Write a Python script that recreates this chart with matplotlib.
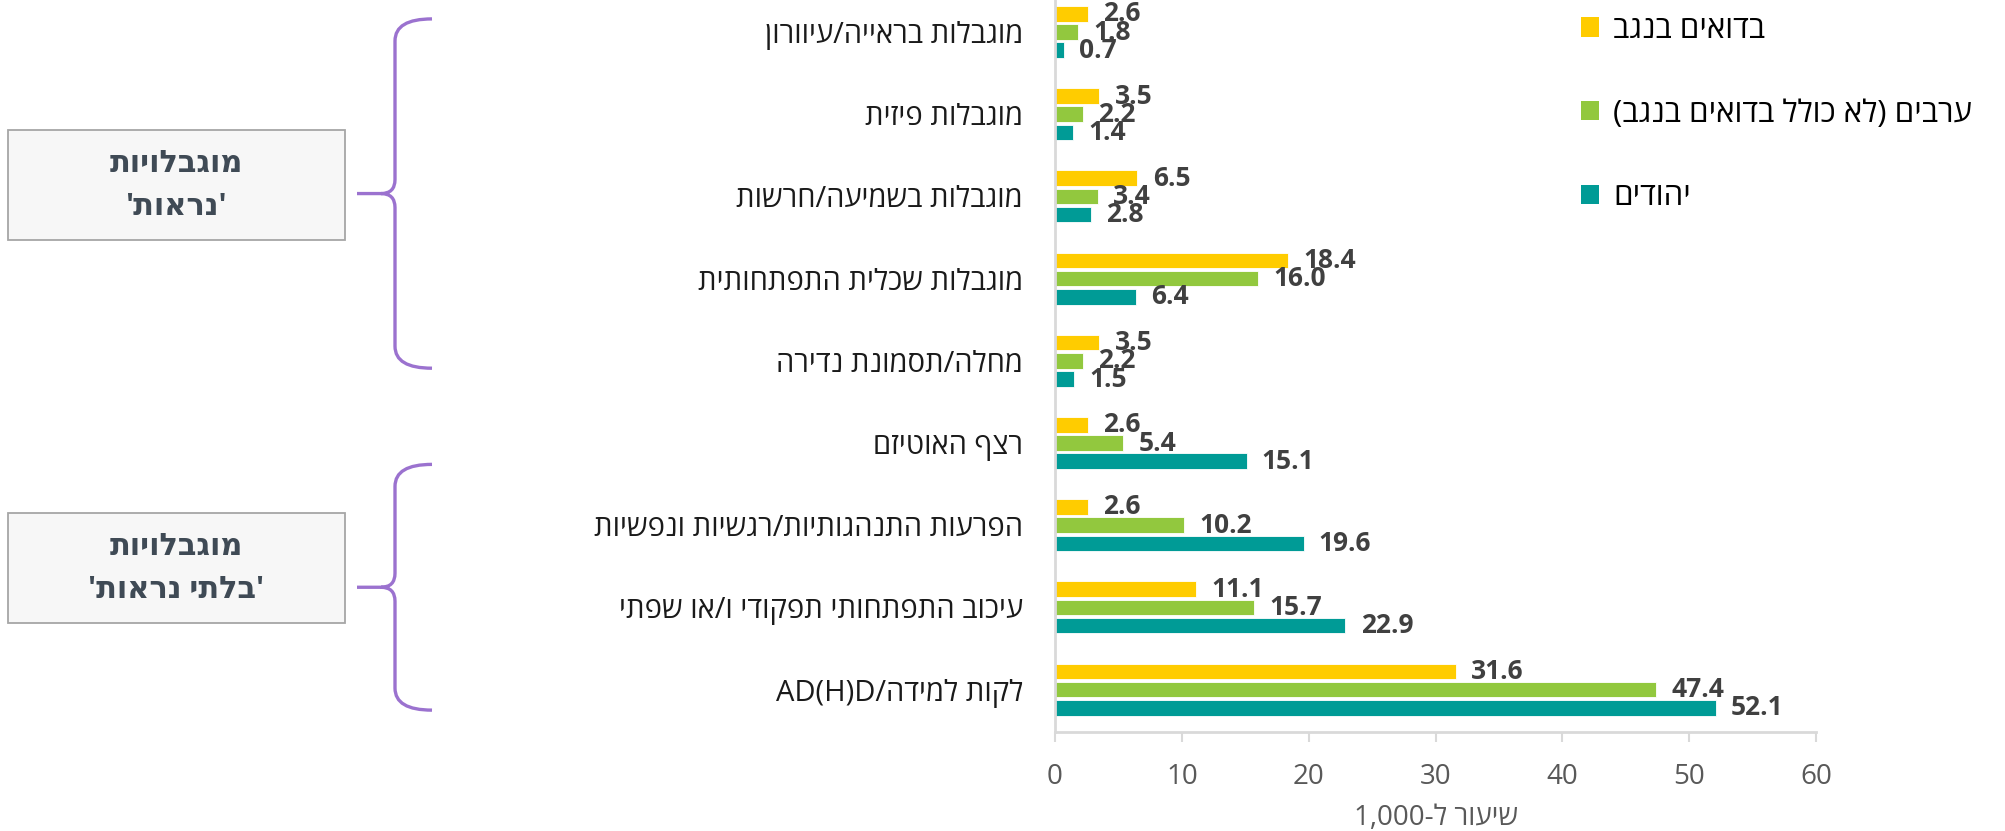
import re

import numpy as np
import matplotlib
matplotlib.use("Agg")
import matplotlib.pyplot as plt
from matplotlib.patches import Patch, Rectangle, PathPatch
from matplotlib.path import Path

plt.rcParams["font.family"] = ["Open Sans", "DejaVu Sans"]

categories = [
    "מוגבלות בראייה/עיוורון",
    "מוגבלות פיזית",
    "מוגבלות בשמיעה/חרשות",
    "מוגבלות שכלית התפתחותית",
    "מחלה/תסמונת נדירה",
    "רצף האוטיזם",
    "הפרעות התנהגותיות/רגשיות ונפשיות",
    "עיכוב התפתחותי תפקודי ו/או שפתי",
    "לקות למידה/AD(H)D",
]
bedouin = [2.6, 3.5, 6.5, 18.4, 3.5, 2.6, 2.6, 11.1, 31.6]
arabs = [1.8, 2.2, 3.4, 16.0, 2.2, 5.4, 10.2, 15.7, 47.4]
jews = [0.7, 1.4, 2.8, 6.4, 1.5, 15.1, 19.6, 22.9, 52.1]
series_names = ["בדואים בנגב", "ערבים (לא כולל בדואים בנגב)", "יהודים"]
colors = ["#FFCC00", "#92C83E", "#009B96"]
x_ticks = [0, 10, 20, 30, 40, 50, 60]
x_label = "שיעור ל-1,000"
groups = [("מוגבלויות", "'נראות'"), ("מוגבלויות", "'בלתי נראות'")]
# brace extent, in category units
group_span = [(-0.16, 4.09), (5.26, 8.25)]

MIRROR = str.maketrans("()", ")(")


def visual(s):
    # minimal bidi: keep latin/digit runs as-is, reverse hebrew runs, flip run order
    parts = [p for p in re.split(r"([A-Za-z0-9](?:[A-Za-z0-9(),.]*[A-Za-z0-9)])?)", s) if p]
    out = []
    for p in reversed(parts):
        if re.match(r"[A-Za-z0-9]", p):
            out.append(p)
        else:
            out.append(p[::-1].translate(MIRROR))
    return "".join(out)


W, H, DPI = 20.05, 8.31, 100
fig = plt.figure(figsize=(W, H), dpi=DPI)
ax = fig.add_axes([1055 / 2005, 1 - 732 / 831, 761 / 2005, 732 / 831])

n = len(categories)
y = np.arange(n)
off = 0.222
bh = 0.19
for k, (vals, col) in enumerate(zip([bedouin, arabs, jews], colors)):
    pos = y + (k - 1) * off
    ax.barh(pos, vals, height=bh, color=col, edgecolor="white", linewidth=0.6)
    for v, p in zip(vals, pos):
        ax.annotate(f"{v:.1f}", (v, p), xytext=(11, 0), textcoords="offset points",
                    ha="left", va="center", fontsize=19, fontweight="bold", color="#404040")

ax.set_ylim(8.516, -0.39)
ax.set_xlim(0, 60)
ax.set_yticks(y, labels=[visual(c) for c in categories], fontsize=21, color="#1a1a1a")
ax.tick_params(axis="y", length=0, pad=23)
ax.set_xticks(x_ticks, labels=[str(t) for t in x_ticks])
ax.tick_params(axis="x", direction="out", length=7, width=1.5, color="#D9D9D9",
               labelsize=20, labelcolor="#595959", pad=15)
ax.set_xlabel(visual(x_label), fontsize=20, color="#595959", labelpad=10)
for s in ["top", "right"]:
    ax.spines[s].set_visible(False)
for s in ["left", "bottom"]:
    ax.spines[s].set_color("#D9D9D9")
    ax.spines[s].set_linewidth(2)

handles = [Patch(facecolor=c, edgecolor="none") for c in colors]
fig.legend(handles, [visual(s) for s in series_names], loc="upper left",
           bbox_to_anchor=(1581 / 2005, 0.982), frameon=False, fontsize=22.5,
           handlelength=0.58, handleheight=0.58, handletextpad=0.45,
           labelspacing=1.72, borderpad=0, borderaxespad=0)

# braces and group boxes
fig_h = H * DPI
fig_w = W * DPI


def data_to_figy(v):
    return ax.transData.transform((0, v))[1] / fig_h


brace_color = "#9B72CF"
x_line, x_end, x_tip = 395 / fig_w, 432 / fig_w, 357 / fig_w
rx, ry = 22 / fig_w, 22 / fig_h
rtx, rty = 14 / fig_w, 14 / fig_h
box_rows = [(130, 240), (513, 623)]
for (s0, s1), (line1, line2), (by0, by1) in zip(group_span, groups, box_rows):
    yt = data_to_figy(s0)
    yb = data_to_figy(s1)
    ym = (yt + yb) / 2
    verts = [
        (x_end, yt), (x_line, yt), (x_line, yt - ry),
        (x_line, ym + rty), (x_line, ym), (x_line - rtx, ym),
        (x_tip, ym),
        (x_line - rtx, ym), (x_line, ym), (x_line, ym - rty),
        (x_line, yb + ry), (x_line, yb), (x_end, yb),
    ]
    codes = [Path.MOVETO, Path.CURVE3, Path.CURVE3,
             Path.LINETO, Path.CURVE3, Path.CURVE3,
             Path.LINETO,
             Path.MOVETO, Path.CURVE3, Path.CURVE3,
             Path.LINETO, Path.CURVE3, Path.CURVE3]
    fig.patches.append(PathPatch(Path(verts, codes), facecolor="none", edgecolor=brace_color,
                                 linewidth=2.4, transform=fig.transFigure, figure=fig))
    fig.patches.append(Rectangle((8 / fig_w, 1 - by1 / fig_h), 337 / fig_w, (by1 - by0) / fig_h,
                                 facecolor="#F7F7F7", edgecolor="#A6A6A6", linewidth=1.3,
                                 transform=fig.transFigure, figure=fig))
    cy = (by0 + by1) / 2
    fig.text(176 / fig_w, 1 - (cy - 21) / fig_h, visual(line1), ha="center", va="center",
             fontsize=22, fontweight="bold", color="#3F4A55")
    fig.text(176 / fig_w, 1 - (cy + 22) / fig_h, visual(line2), ha="center", va="center",
             fontsize=22, fontweight="bold", color="#3F4A55")

fig.savefig("out.png", dpi=DPI)
